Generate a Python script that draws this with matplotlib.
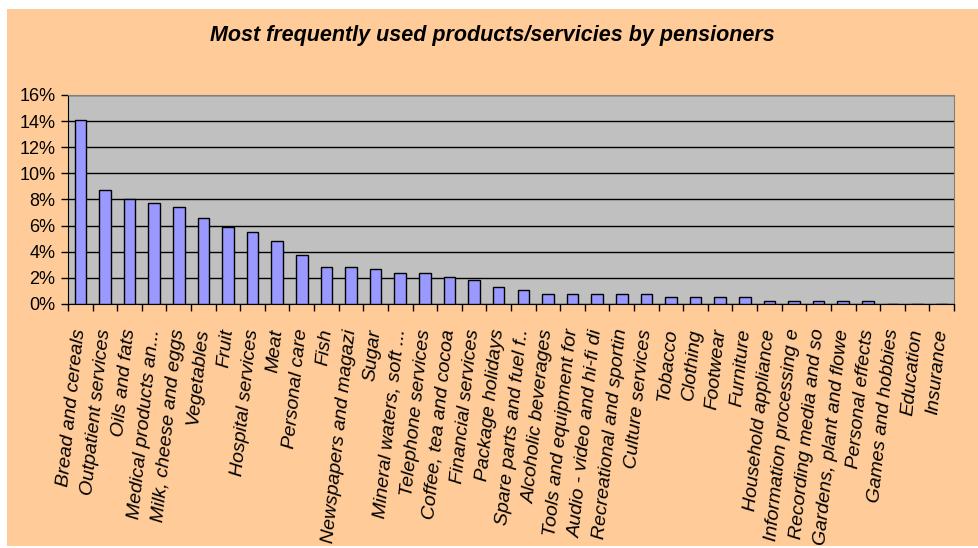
import matplotlib
matplotlib.use("Agg")
import matplotlib.pyplot as plt
from matplotlib.patches import Rectangle
from matplotlib.ticker import FuncFormatter, FixedLocator

# categorias e participação (%)
categorias = [
    "Bread and cereals", "Outpatient services", "Oils and fats",
    "Medical products an...", "Milk, cheese and eggs", "Vegetables",
    "Fruit", "Hospital services", "Meat", "Personal care", "Fish",
    "Newspapers and magazi", "Sugar", "Mineral waters, soft ...",
    "Telephone services", "Coffee, tea and cocoa", "Financial services",
    "Package holidays", "Spare parts and fuel f..", "Alcoholic beverages",
    "Tools and equipment for", "Audio - video and hi-fi di",
    "Recreational and sportin", "Culture services", "Tobacco", "Clothing",
    "Footwear", "Furniture", "Household appliance",
    "Information processing e", "Recording media and so",
    "Gardens, plant and flowe", "Personal effects", "Games and hobbies",
    "Education", "Insurance",
]
valores = [
    14.1, 8.75, 8.0, 7.7, 7.45, 6.6, 5.9, 5.55, 4.8, 3.75, 2.85, 2.85,
    2.65, 2.35, 2.35, 2.1, 1.8, 1.3, 1.1, 0.8, 0.8, 0.8, 0.8, 0.8, 0.55,
    0.55, 0.55, 0.55, 0.25, 0.25, 0.25, 0.25, 0.25, 0.0, 0.0, 0.0,
]
yticks = [0, 2, 4, 6, 8, 10, 12, 14, 16]

fonte = ["Liberation Sans", "DejaVu Sans"]

fig = plt.figure(figsize=(9.79, 5.48), dpi=100, facecolor="white")
# fundo pêssego da área do gráfico
fig.patches.append(Rectangle((7 / 979, 2 / 548), 972 / 979, 537 / 548,
                             transform=fig.transFigure, facecolor="#FFCC99",
                             edgecolor="none", zorder=-10))

ax = fig.add_axes([68 / 979, 1 - 304 / 548, 886 / 979, 209 / 548])
ax.set_facecolor("#C0C0C0")

x = list(range(len(categorias)))
ax.bar(x, valores, width=0.47, color="#9999FF", edgecolor="black",
       linewidth=1.0, zorder=3)

ax.set_xlim(-0.5, len(categorias) - 0.5)
ax.set_ylim(0, 16)
ax.set_yticks(yticks)
ax.yaxis.set_major_formatter(FuncFormatter(lambda v, p: f"{v:.0f}%"))
ax.grid(axis="y", color="black", linewidth=1.0, zorder=1)
ax.set_axisbelow(True)

# marcas entre categorias, rótulos no centro
ax.xaxis.set_major_locator(FixedLocator([i - 0.5 for i in range(len(categorias) + 1)]))
ax.xaxis.set_major_formatter(FuncFormatter(lambda v, p: ""))
ax.xaxis.set_minor_locator(FixedLocator(x))
ax.set_xticklabels(categorias, minor=True, rotation=84, ha="right",
                   va="center", rotation_mode="anchor", fontstyle="italic",
                   fontsize=14, family=fonte)
ax.tick_params(axis="x", which="minor", length=0, pad=18)
ax.tick_params(axis="x", which="major", length=5, width=1, direction="out")
ax.tick_params(axis="y", length=5, width=1, direction="out", labelsize=13, pad=4)
for lbl in ax.get_yticklabels():
    lbl.set_family(fonte)

for lado in ["top", "right"]:
    ax.spines[lado].set_color("#808080")
ax.spines["left"].set_color("black")
ax.spines["bottom"].set_color("black")

fig.text(0.5025, 1 - 35 / 548, "Most frequently used products/servicies by pensioners",
         ha="center", va="center", fontsize=15.5, fontweight="bold",
         fontstyle="italic", family=fonte)

fig.savefig("out.png", dpi=100, facecolor="white")
